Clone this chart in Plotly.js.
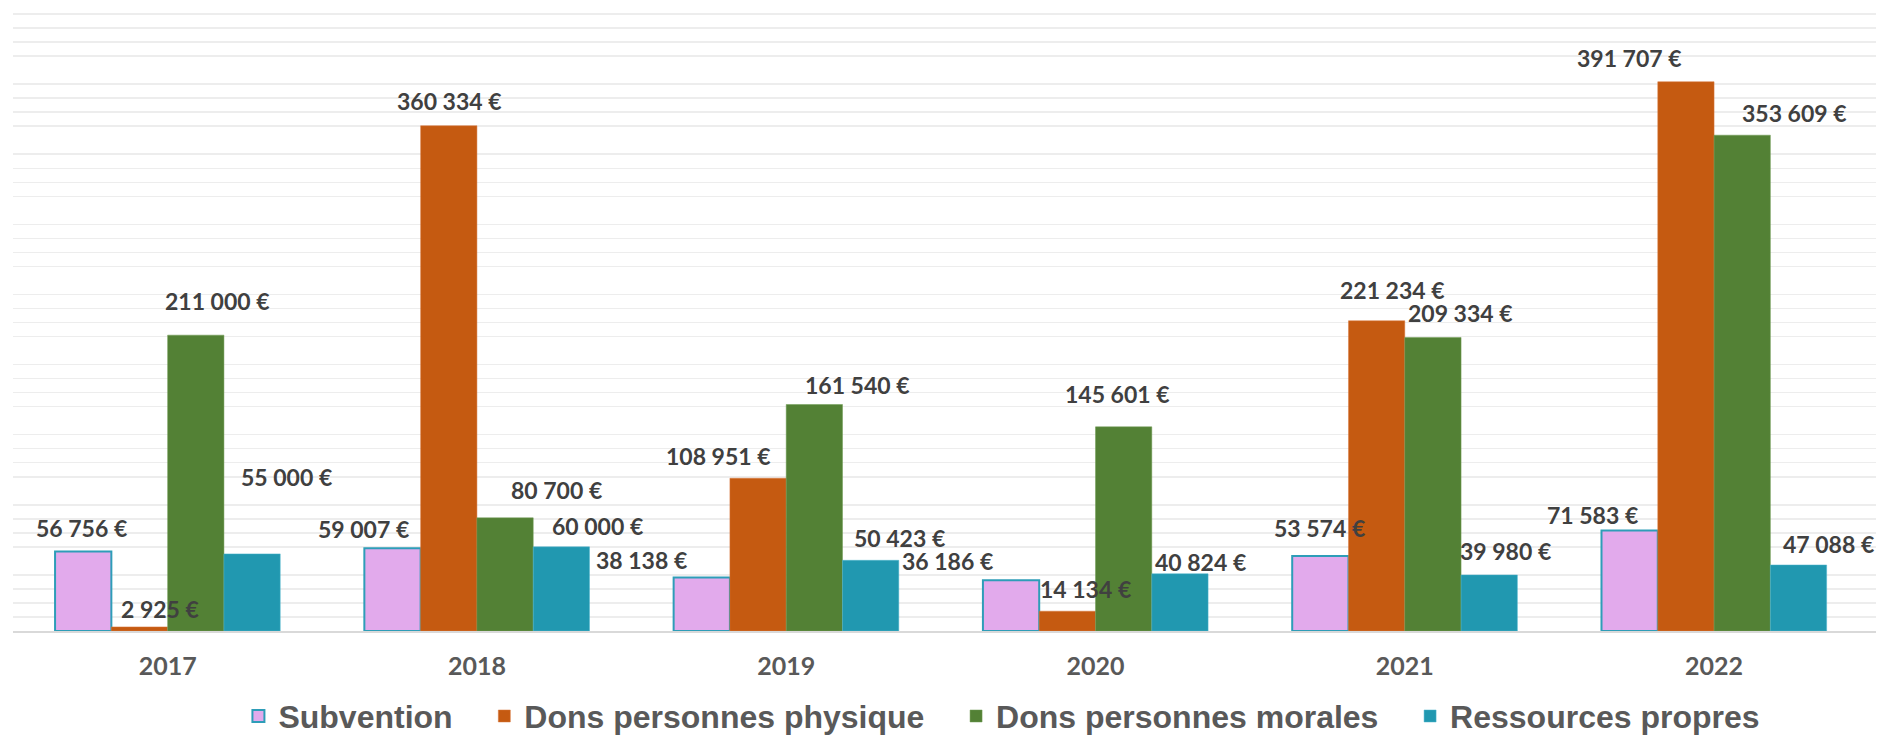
<!DOCTYPE html>
<html>
<head>
<meta charset="utf-8">
<script src="https://cdn.plot.ly/plotly-3.0.1.min.js"></script>
<style>
  html, body { margin: 0; padding: 0; background: #fff; }
  #chart { width: 1892px; height: 735px; }
</style>
</head>
<body>
<div id="chart"></div>
<script>
var years = ["2017", "2018", "2019", "2020", "2021", "2022"];

var subvention = [56756, 59007, 38138, 36186, 53574, 71583];
var donsPhysique = [2925, 360334, 108951, 14134, 221234, 391707];
var donsMorales = [211000, 80700, 161540, 145601, 209334, 353609];
var ressources = [55000, 60000, 50423, 40824, 39980, 47088];

var seriesNames = ["Subvention", "Dons personnes physique", "Dons personnes morales", "Ressources propres"];
var seriesColors = ["#E2AAEC", "#C55A11", "#538135", "#2198B0"];
var edgeColors = ["#2E9DB8", "#D9793F", "#6E9A52", "#4DB5CC"];
var edgeWidths = [2, 0.5, 0.5, 0.5];

// label nudges in px (the labels were moved by hand in the original)
var shiftX = [
	[-2, -29, -60, -64, -1, -37],
	[20, 1, -40, 18, 16, -56],
	[22, 51, 43, -6, 28, 52],
	[34, 36, 29, 21, 16, 30]
];
var shiftY = [
	[23, 19, 18, 19, 28, 16],
	[18, 25, 22, 22, 31, 24],
	[34, 28, 19, 33, 24, 22],
	[77, 21, 22, 12, 24, 21]
];

var bargap = 0.272;
var labelFont = "Lato, Carlito, Calibri, sans-serif";
var legendFont = "Liberation Sans, Arial, sans-serif";
var legendPad = "\u00a0\u00a0\u00a0";

function euro(v) {
	return String(v).replace(/\B(?=(\d{3})+(?!\d))/g, " ") + " €";
}

var allValues = [subvention, donsPhysique, donsMorales, ressources];
var data = [];
var annotations = [];
var barW = (1 - bargap) / allValues.length;

for (var s = 0; s < allValues.length; s++) {
	data.push({
		type: "bar",
		name: seriesNames[s] + (s < allValues.length - 1 ? legendPad : ""),
		x: years,
		y: allValues[s],
		marker: {
			color: seriesColors[s],
			line: { color: edgeColors[s], width: edgeWidths[s] }
		},
		hoverinfo: "skip"
	});

	var offset = -(1 - bargap) / 2 + barW * (s + 0.5);
	for (var i = 0; i < years.length; i++) {
		annotations.push({
			x: i + offset,
			y: allValues[s][i],
			xref: "x",
			yref: "y",
			text: euro(allValues[s][i]),
			showarrow: false,
			xanchor: "center",
			yanchor: "middle",
			xshift: shiftX[s][i],
			yshift: shiftY[s][i],
			font: { family: labelFont, size: 23, color: "#404040", weight: "bold" }
		});
	}
}

var layout = {
	width: 1892,
	height: 735,
	paper_bgcolor: "#ffffff",
	plot_bgcolor: "#ffffff",
	barmode: "group",
	bargap: bargap,
	bargroupgap: 0,
	margin: { l: 13, r: 16, t: 0, b: 104, autoexpand: false },
	xaxis: {
		type: "category",
		showgrid: false,
		showline: true,
		linecolor: "#D9D9D9",
		linewidth: 2,
		ticks: "",
		ticklabelstandoff: 12,
		tickfont: { family: labelFont, size: 25, color: "#595959", weight: "bold" },
		fixedrange: true
	},
	yaxis: {
		range: [0, 450000],
		dtick: 50000,
		showgrid: true,
		gridcolor: "#ffffff",
		gridwidth: 2,
		zeroline: false,
		showticklabels: false,
		ticks: "",
		minor: {
			dtick: 10000,
			showgrid: true,
			gridcolor: "#EDEDED",
			gridwidth: 1.5
		},
		fixedrange: true
	},
	showlegend: true,
	legend: {
		orientation: "h",
		x: 0.121,
		xanchor: "left",
		y: -0.135,
		yanchor: "middle",
		font: { family: legendFont, size: 32, color: "#595959", weight: "bold" },
		itemclick: false,
		itemdoubleclick: false
	},
	annotations: annotations
};

Plotly.newPlot("chart", data, layout, { displayModeBar: false, staticPlot: true });
</script>
</body>
</html>
